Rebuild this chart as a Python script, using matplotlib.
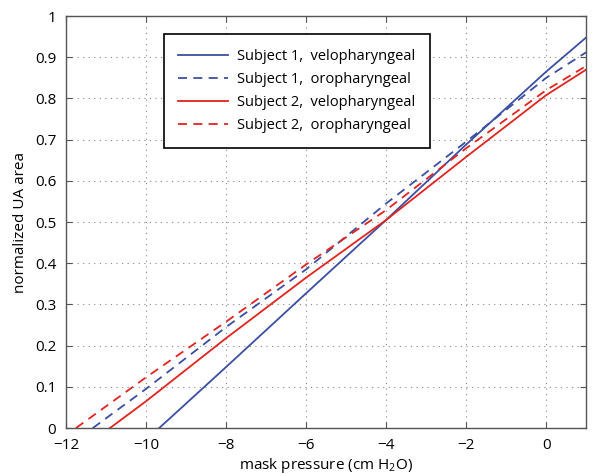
import matplotlib
matplotlib.use('Agg')
import matplotlib.pyplot as plt

plt.rcParams['font.family'] = ['Open Sans', 'DejaVu Sans']
plt.rcParams['axes.unicode_minus'] = True

## Subject 1
s1_velo_x = [-9.67, -8, -6, -4, -2, 0, 1]
s1_velo_y = [0, 0.148, 0.327, 0.505, 0.688, 0.865, 0.948]
s1_oro_x = [-11.33, -10, -8, -6, -4, -2, 0, 1]
s1_oro_y = [0, 0.095, 0.245, 0.385, 0.545, 0.695, 0.85, 0.912]

## Subject 2
s2_velo_x = [-10.9, -10, -8, -6, -4, -2, 0, 1]
s2_velo_y = [0, 0.065, 0.218, 0.365, 0.505, 0.658, 0.808, 0.87]
s2_oro_x = [-11.75, -10, -8, -6, -4, -2, 0, 1]
s2_oro_y = [0, 0.123, 0.258, 0.397, 0.529, 0.679, 0.82, 0.879]

xticks = [-12, -10, -8, -6, -4, -2, 0]
yticks = [0, 0.1, 0.2, 0.3, 0.4, 0.5, 0.6, 0.7, 0.8, 0.9, 1]
ytick_labels = ['0', '0.1', '0.2', '0.3', '0.4', '0.5', '0.6', '0.7', '0.8', '0.9', '1']

blue = '#3b4ea2'
red = '#e2231e'

fig = plt.figure(figsize=(5.92, 4.74), dpi=100)
ax = fig.add_axes([0.1115, 0.097, 0.8785, 0.869])

ax.plot(s1_velo_x, s1_velo_y, color=blue, lw=1.3, label='Subject 1,  velopharyngeal')
ax.plot(s1_oro_x, s1_oro_y, color=blue, lw=1.3, ls=(0, (5, 3.5)), label='Subject 1,  oropharyngeal')
ax.plot(s2_velo_x, s2_velo_y, color=red, lw=1.3, label='Subject 2,  velopharyngeal')
ax.plot(s2_oro_x, s2_oro_y, color=red, lw=1.3, ls=(0, (5, 3.5)), label='Subject 2,  oropharyngeal')

ax.set_xlim(-12, 1)
ax.set_ylim(0, 1)
ax.set_xticks(xticks)
ax.set_yticks(yticks)
ax.set_yticklabels(ytick_labels)
ax.tick_params(direction='in', top=True, right=True, labelsize=11, length=4,
               color='#555555', pad=7)
ax.grid(True, ls=(0, (1, 4)), color='#888888', lw=0.8)
for s in ax.spines.values():
    s.set_color('#555555')
    s.set_linewidth(1.0)

ax.set_xlabel(r'mask pressure (cm H$_\mathregular{2}$O)', fontsize=11, labelpad=2)
ax.set_ylabel('normalized UA area', fontsize=11, labelpad=5)

leg = ax.legend(loc='upper left', bbox_to_anchor=(0.188, 0.956), fontsize=10.5,
                handlelength=3.4, handletextpad=0.6, labelspacing=0.56,
                borderpad=1.0, fancybox=False, framealpha=1, borderaxespad=0)
leg.get_frame().set_edgecolor('black')
leg.get_frame().set_linewidth(1.2)

plt.savefig('out.png', dpi=100)
